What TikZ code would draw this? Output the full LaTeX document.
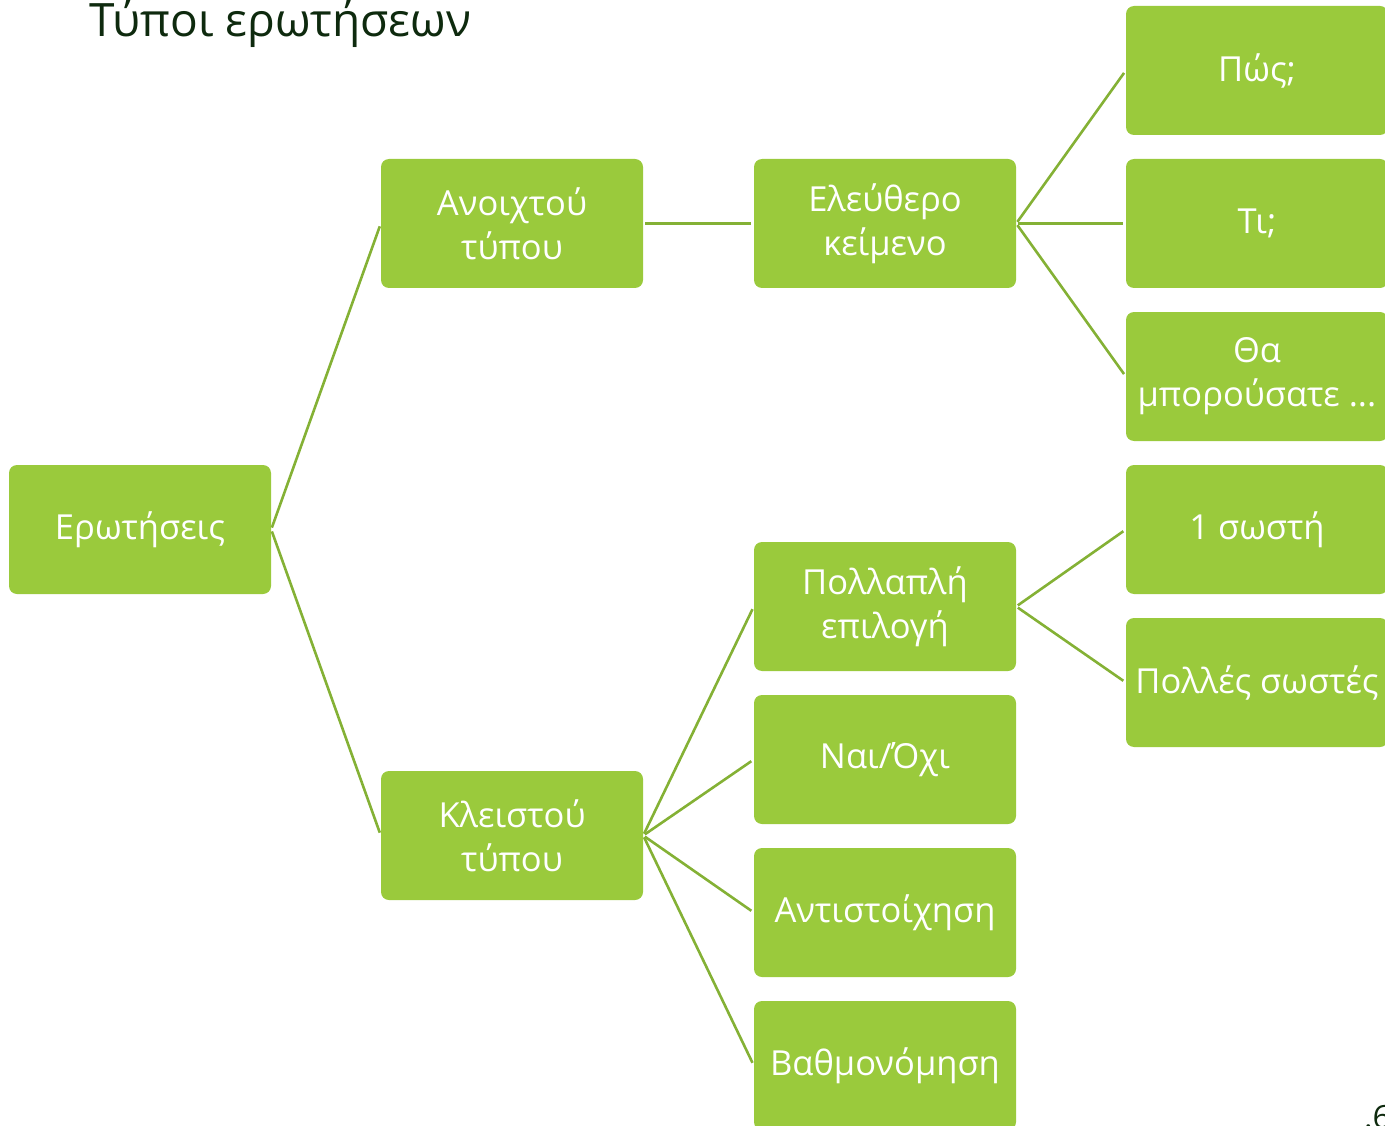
\documentclass[tikz,border=0pt]{standalone}
\usepackage{fontspec}
\setmainfont{Open Sans}
\definecolor{boxgreen}{HTML}{9ACA3C}
\definecolor{linegreen}{HTML}{84B135}
\definecolor{titlegreen}{HTML}{0E2A0E}
\begin{document}
\begin{tikzpicture}[x=1pt,y=-1pt,
  gbox/.style={fill=boxgreen, rounded corners=8pt, minimum width=262pt, minimum height=129pt,
    inner sep=0pt, align=center, text=white, font=\fontsize{34.5}{44}\selectfont},
  conn/.style={draw=linegreen, line width=2.6pt, shorten <=2pt, shorten >=3pt}]
\useasboundingbox (0,0) rectangle (1385,1126);
\node[anchor=base west, text=titlegreen, font=\fontsize{46}{52}\selectfont, inner sep=0pt] (title) at (89,37) {Τύποι ερωτήσεων};
\node[gbox] (q) at (140,529.5) {Ερωτήσεις};
\node[gbox] (open) at (512,223.5) {Ανοιχτού\\τύπου};
\node[gbox] (closed) at (512,835.5) {Κλειστού\\τύπου};
\node[gbox] (free) at (885,223.5) {Ελεύθερο\\κείμενο};
\node[gbox] (mc) at (885,606.5) {Πολλαπλή\\επιλογή};
\node[gbox] (yn) at (885,759.5) {Ναι/Όχι};
\node[gbox] (match) at (885,912.5) {Αντιστοίχηση};
\node[gbox] (rate) at (885,1065.5) {Βαθμονόμηση};
\node[gbox] (how) at (1257,70.5) {Πώς;};
\node[gbox] (what) at (1257,223.5) {Τι;};
\node[gbox] (could) at (1257,376.5) {Θα\\μπορούσατε ...};
\node[gbox] (one) at (1257,529.5) {1 σωστή};
\node[gbox] (many) at (1257,682.5) {Πολλές σωστές};
\node[anchor=base west, text=titlegreen, font=\fontsize{32}{38}\selectfont, inner sep=0pt] (pg) at (1364,1128) {.6};
\draw[conn] (q.east) -- (open.west);
\draw[conn] (q.east) -- (closed.west);
\draw[conn] (open.east) -- (free.west);
\draw[conn] (free.east) -- (how.west);
\draw[conn] (free.east) -- (what.west);
\draw[conn] (free.east) -- (could.west);
\draw[conn] (mc.east) -- (one.west);
\draw[conn] (mc.east) -- (many.west);
\draw[conn] (closed.east) -- (mc.west);
\draw[conn] (closed.east) -- (yn.west);
\draw[conn] (closed.east) -- (match.west);
\draw[conn] (closed.east) -- (rate.west);
\end{tikzpicture}
\end{document}
